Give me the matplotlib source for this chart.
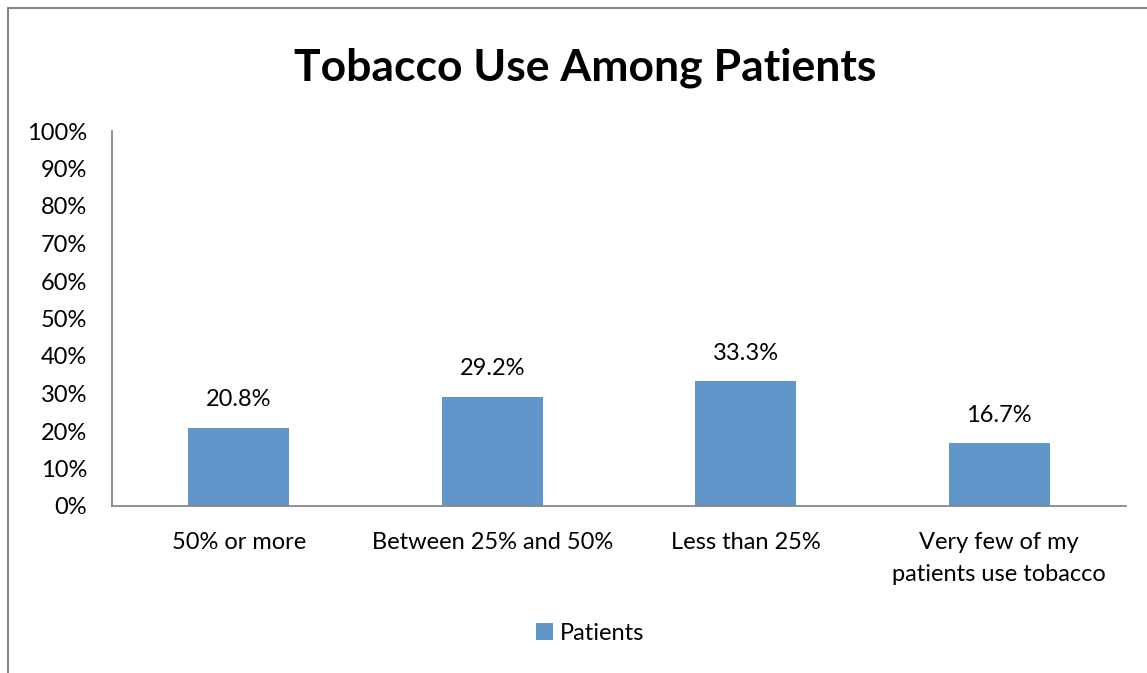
import matplotlib.pyplot as plt
from matplotlib.patches import Rectangle
import numpy as np

plt.rcParams['font.family'] = ['Lato', 'DejaVu Sans']

categories = ['50% or more', 'Between 25% and 50%', 'Less than 25%',
              'Very few of my\npatients use tobacco']
values = [20.8, 29.2, 33.3, 16.7]
labels = ['20.8%', '29.2%', '33.3%', '16.7%']
yticks = np.arange(0, 101, 10)

W, H = 1147, 673
fig = plt.figure(figsize=(W / 100, H / 100), dpi=100)

# chart frame (runs off the right and bottom of the image)
fig.patches.append(Rectangle((8 / W, -0.1), 1.2, 1 - 8 / H + 0.1,
                             transform=fig.transFigure, fill=False,
                             edgecolor='#878787', lw=1.5))

ax = fig.add_axes([112 / W, 1 - 506 / H, (1126 - 112) / W, (506 - 131) / H])
x = np.arange(len(categories))
bars = ax.bar(x, values, width=0.4, color='#6096C9', label='Patients')

for b, lab in zip(bars, labels):
    ax.text(b.get_x() + b.get_width() / 2, b.get_height() + 7.5, lab,
            ha='center', va='center', fontsize=17, color='black')

ax.set_xlim(-0.5, len(categories) - 0.5)
ax.set_ylim(0, 100)
ax.set_yticks(yticks)
ax.set_yticklabels([f'{t}%' for t in yticks], fontsize=17)
ax.set_xticks(x)
ax.set_xticklabels([])
# category labels drawn as annotations so the line spacing can be set
for xi, cat in zip(x, categories):
    ax.annotate(cat, xy=(xi, 0), xycoords=('data', 'axes fraction'),
                xytext=(0, -19), textcoords='offset points', ha='center',
                va='top', fontsize=17, linespacing=1.6)
ax.tick_params(axis='y', length=0, pad=18)
ax.tick_params(axis='x', length=0)
for s in ['top', 'right']:
    ax.spines[s].set_visible(False)
for s in ['left', 'bottom']:
    ax.spines[s].set_color('#878787')
    ax.spines[s].set_linewidth(1.3)

fig.text(585 / W, 1 - 68 / H, 'Tobacco Use Among Patients', ha='center',
         va='center', fontsize=32, fontweight='bold')

fig.legend(loc='center', bbox_to_anchor=(590 / W, 1 - 633 / H), frameon=False,
           fontsize=17, handlelength=0.7, handleheight=0.7, handletextpad=0.3)

fig.savefig('out.png', dpi=100, facecolor='white')
